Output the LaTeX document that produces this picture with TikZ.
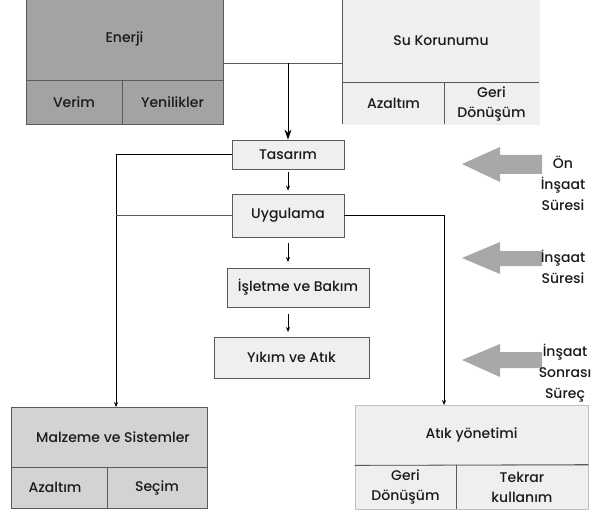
\documentclass[tikz,border=0pt]{standalone}
\usepackage{fontspec}
\setmainfont{Poppins}[UprightFont={* Medium}]
\usetikzlibrary{arrows.meta,calc}
\definecolor{darkfill}{HTML}{A3A3A3}
\definecolor{midfill}{HTML}{D3D3D3}
\definecolor{lightfill}{HTML}{EFEFEF}
\definecolor{edge}{HTML}{5A5A5A}
\definecolor{blockgray}{HTML}{A8A8A8}
\definecolor{ink}{HTML}{1A1A1A}
\tikzset{
  x=1pt, y=-1pt,
  cell/.style={draw=edge, line width=0.8pt, inner sep=0pt, text=ink,
    font=\fontsize{14}{20}\selectfont, align=center},
  stage/.style={cell, fill=lightfill},
  link/.style={draw=edge, line width=0.8pt},
  flow/.style={link, -{Stealth[length=5pt,width=4pt]}, draw=black},
  bigflow/.style={link, -{Stealth[length=10pt,width=7pt]}, draw=black, line width=1pt},
  blockarrow/.style={fill=blockgray, draw=none},
  period/.style={text=ink, font=\fontsize{14}{21}\selectfont, align=center, inner sep=0pt}
}
% a box spanning x1..x2, y1..y2
\newcommand{\boxat}[6]{%
  \node[#1, minimum width={#4-#3}, minimum height={#6-#5}]
    (#2) at ({(#3+#4)/2},{(#5+#6)/2}) {}; }
\begin{document}
\begin{tikzpicture}
\useasboundingbox (0,0) rectangle (602,513);

% Energy group
\boxat{cell,fill=darkfill}{enerji}{26}{223}{-2}{80}
\boxat{cell,fill=darkfill}{verim}{26}{122}{80}{124}
\boxat{cell,fill=darkfill}{yenilik}{122}{223}{80}{124}
\node[cell,draw=none] at (enerji) {Enerji};
\node[cell,draw=none] at (verim) {Verim};
\node[cell,draw=none] at (yenilik) {Yenilikler};

% Water group
\boxat{cell,fill=lightfill,draw=lightfill}{su}{343}{539}{-2}{83}
\boxat{cell,fill=lightfill,draw=lightfill}{azal}{343}{444}{83}{124}
\boxat{cell,fill=lightfill,draw=lightfill}{geri}{444}{539}{83}{124}
\draw[link] (su.north west) -- (azal.south west);
\draw[link] (azal.north west) -- (geri.north east);
\draw[link] (azal.north east) -- (azal.south east);
\node[cell,draw=none] at (su) {Su Korunumu};
\node[cell,draw=none] at (azal) {Azaltım};
\node[cell,draw=none] at (geri) {Geri\\Dönüşüm};

% Life-cycle stages
\boxat{stage}{tasarim}{232}{344}{140}{169}
\node[cell,draw=none] at (tasarim) {Tasarım};
\boxat{stage}{uyg}{232}{344}{194}{237}
\node[cell,draw=none] at (uyg) {Uygulama};
\boxat{stage}{isletme}{227}{369}{268}{307}
\node[cell,draw=none] at (isletme) {İşletme ve Bakım};
\boxat{stage}{yikim}{214}{369}{337}{378}
\node[cell,draw=none] at (yikim) {Yıkım ve Atık};

% Materials group
\boxat{cell,fill=midfill}{malz}{11}{207}{407}{467}
\boxat{cell,fill=midfill}{malza}{11}{107}{467}{508}
\boxat{cell,fill=midfill}{secim}{107}{207}{467}{508}
\node[cell,draw=none] at ($(malz)+(4,0)$) {Malzeme ve Sistemler};
\node[cell,draw=none] at ($(malza)+(-4,0)$) {Azaltım};
\node[cell,draw=none] at (secim) {Seçim};

% Waste group
\boxat{cell,fill=lightfill,draw=lightfill!80!black}{atik}{355}{588}{405}{465}
\boxat{cell,fill=lightfill,draw=lightfill!80!black}{atikg}{355}{456}{465}{509}
\boxat{cell,fill=lightfill,draw=lightfill!80!black}{tekrar}{456}{588}{465}{509}
\draw[link] (atik.south west) -- (tekrar.north east);
\draw[link] (atikg.north east) -- (atikg.south east);
\node[cell,draw=none] at (atik) {Atık yönetimi};
\node[cell,draw=none] at (atikg) {Geri\\Dönüşüm};
\node[cell,draw=none] at (tekrar) {Tekrar\\kullanım};

% Connectors
\coordinate (ej) at (223,63);
\coordinate (top) at (288,63);
\draw[link] (ej) -- (ej -| su.west);
\draw[bigflow] (top) -- (tasarim.north);
\draw[flow] ($(tasarim.south)+(0,3)$) coordinate (t1) -- ($(uyg.north)+(0,-3)$) coordinate (u0);
\coordinate (u1) at (288,243);
\coordinate (i1) at (288,262);
\draw[flow] (u1) -- (i1);
\coordinate (i2) at (288,314);
\coordinate (y1) at (288,332);
\draw[flow] (i2) -- (y1);

\coordinate (lft) at (116,407);
\coordinate (rgt) at (444,405);
\draw[flow] (tasarim.west) -| (lft);
\draw[link] (uyg.west) -- (uyg.west -| lft);
\draw[flow] (uyg.east) -| (rgt);

% Period markers
\fill[blockarrow] (462,164) -- (500,147) -- (500,155) -- (542,155) -- (542,174) -- (500,174) -- (500,182) -- cycle;
\fill[blockarrow] (462,258) -- (500,242) -- (500,251) -- (542,251) -- (542,266) -- (500,266) -- (500,274) -- cycle;
\fill[blockarrow] (462,360) -- (500,344) -- (500,352) -- (542,352) -- (542,368) -- (500,368) -- (500,377) -- cycle;

\node[period] (p1) at (563,183) {Ön\\İnşaat\\Süresi};
\node[period] (p2) at (563,267) {İnşaat\\Süresi};
\node[period] (p3) at (565,373) {İnşaat\\Sonrası\\Süreç};
\end{tikzpicture}
\end{document}
